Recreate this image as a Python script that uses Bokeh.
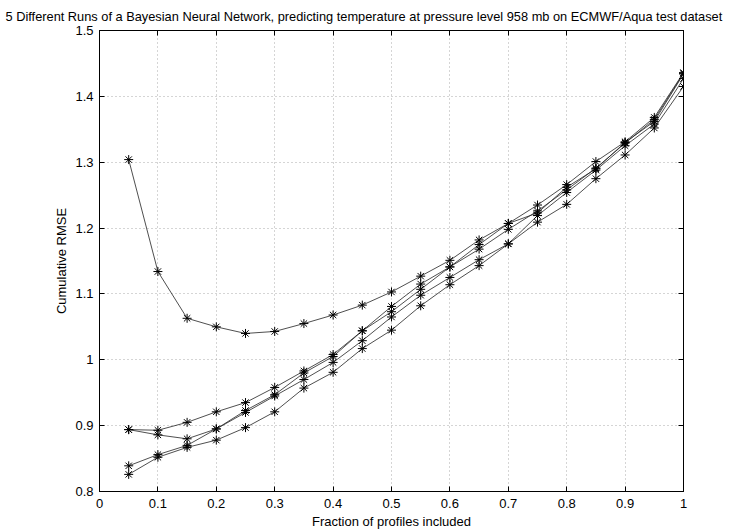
from bokeh.plotting import figure
from bokeh.models import Range1d, FixedTicker, LinearAxis
from bokeh.embed import file_html
from bokeh.resources import INLINE

fraction = [0.05, 0.1, 0.15, 0.2, 0.25, 0.3, 0.35, 0.4, 0.45, 0.5,
            0.55, 0.6, 0.65, 0.7, 0.75, 0.8, 0.85, 0.9, 0.95, 1.0]

run1 = [1.304, 1.134, 1.063, 1.050, 1.040, 1.043, 1.055, 1.068, 1.083, 1.103,
        1.127, 1.151, 1.182, 1.207, 1.223, 1.262, 1.290, 1.330, 1.362, 1.434]
run2 = [0.894, 0.893, 0.905, 0.921, 0.935, 0.958, 0.983, 1.008, 1.044, 1.081,
        1.115, 1.141, 1.175, 1.207, 1.235, 1.266, 1.301, 1.331, 1.368, 1.436]
run3 = [0.894, 0.886, 0.880, 0.895, 0.923, 0.947, 0.980, 1.005, 1.044, 1.073,
        1.107, 1.141, 1.168, 1.198, 1.226, 1.258, 1.291, 1.329, 1.365, 1.435]
run4 = [0.839, 0.856, 0.870, 0.895, 0.920, 0.945, 0.970, 0.996, 1.029, 1.065,
        1.098, 1.125, 1.152, 1.176, 1.219, 1.254, 1.288, 1.325, 1.358, 1.427]
run5 = [0.826, 0.852, 0.867, 0.878, 0.897, 0.921, 0.957, 0.981, 1.017, 1.045,
        1.082, 1.114, 1.143, 1.176, 1.209, 1.236, 1.275, 1.311, 1.352, 1.415]
runs = [run1, run2, run3, run4, run5]

x_ticks = [0, 0.1, 0.2, 0.3, 0.4, 0.5, 0.6, 0.7, 0.8, 0.9, 1.0]
x_tick_labels = ["0", "0.1", "0.2", "0.3", "0.4", "0.5", "0.6", "0.7", "0.8", "0.9", "1"]
y_ticks = [0.8, 0.9, 1.0, 1.1, 1.2, 1.3, 1.4, 1.5]
y_tick_labels = ["0.8", "0.9", "1", "1.1", "1.2", "1.3", "1.4", "1.5"]

FONT = "Liberation Sans"

p = figure(width=756, height=531, output_backend="svg", toolbar_location=None,
           x_range=Range1d(0, 1), y_range=Range1d(0.8, 1.5),
           min_border_left=99, min_border_right=73, min_border_top=30, min_border_bottom=39)

p.title.text = "5 Different Runs of a Bayesian Neural Network, predicting temperature at pressure level 958 mb on ECMWF/Aqua test dataset"
p.title.text_font = FONT
p.title.text_font_size = "12.8px"
p.title.text_font_style = "normal"
p.title.text_color = "black"
p.title.align = "left"
p.title.offset = -94
p.title.standoff = 13

p.background_fill_color = "white"
p.border_fill_color = "white"
p.outline_line_color = "black"
p.outline_line_width = 1

for ax, ticks, labels in ((p.xaxis[0], x_ticks, x_tick_labels), (p.yaxis[0], y_ticks, y_tick_labels)):
    ax.ticker = FixedTicker(ticks=ticks)
    ax.major_label_overrides = {t: l for t, l in zip(ticks, labels)}
    ax.minor_tick_line_color = None
    ax.major_tick_in = 5
    ax.major_tick_out = 0
    ax.axis_line_color = "black"
    ax.major_tick_line_color = "black"
    ax.major_label_text_font = FONT
    ax.major_label_text_font_size = "13px"
    ax.major_label_text_color = "black"
    ax.axis_label_text_font = FONT
    ax.axis_label_text_font_size = "13px"
    ax.axis_label_text_font_style = "normal"
    ax.axis_label_text_color = "black"

p.xaxis[0].axis_label = "Fraction of profiles included"
p.xaxis[0].major_label_standoff = 7
p.xaxis[0].axis_label_standoff = 3
p.yaxis[0].axis_label = "Cumulative RMSE"
p.yaxis[0].major_label_standoff = 6
p.yaxis[0].axis_label_standoff = 3

for loc, ticks in (("above", x_ticks), ("right", y_ticks)):
    ax = LinearAxis(ticker=FixedTicker(ticks=ticks),
                    major_label_overrides={t: "" for t in ticks},
                    major_tick_in=5, major_tick_out=0, minor_tick_line_color=None,
                    axis_line_color="black", major_tick_line_color="black",
                    major_label_standoff=0)
    p.add_layout(ax, loc)

p.xgrid.ticker = FixedTicker(ticks=x_ticks)
p.ygrid.ticker = FixedTicker(ticks=y_ticks)
for g in (p.xgrid[0], p.ygrid[0]):
    g.grid_line_color = "#aaaaaa"
    g.grid_line_dash = "1 3"
    g.grid_line_width = 1

for r in runs:
    p.line(fraction, r, line_color="#222222", line_width=0.8)
    p.scatter(fraction, r, marker="asterisk", size=9, line_color="black", line_width=1)

open("out.html", "w").write(file_html(p, INLINE))
